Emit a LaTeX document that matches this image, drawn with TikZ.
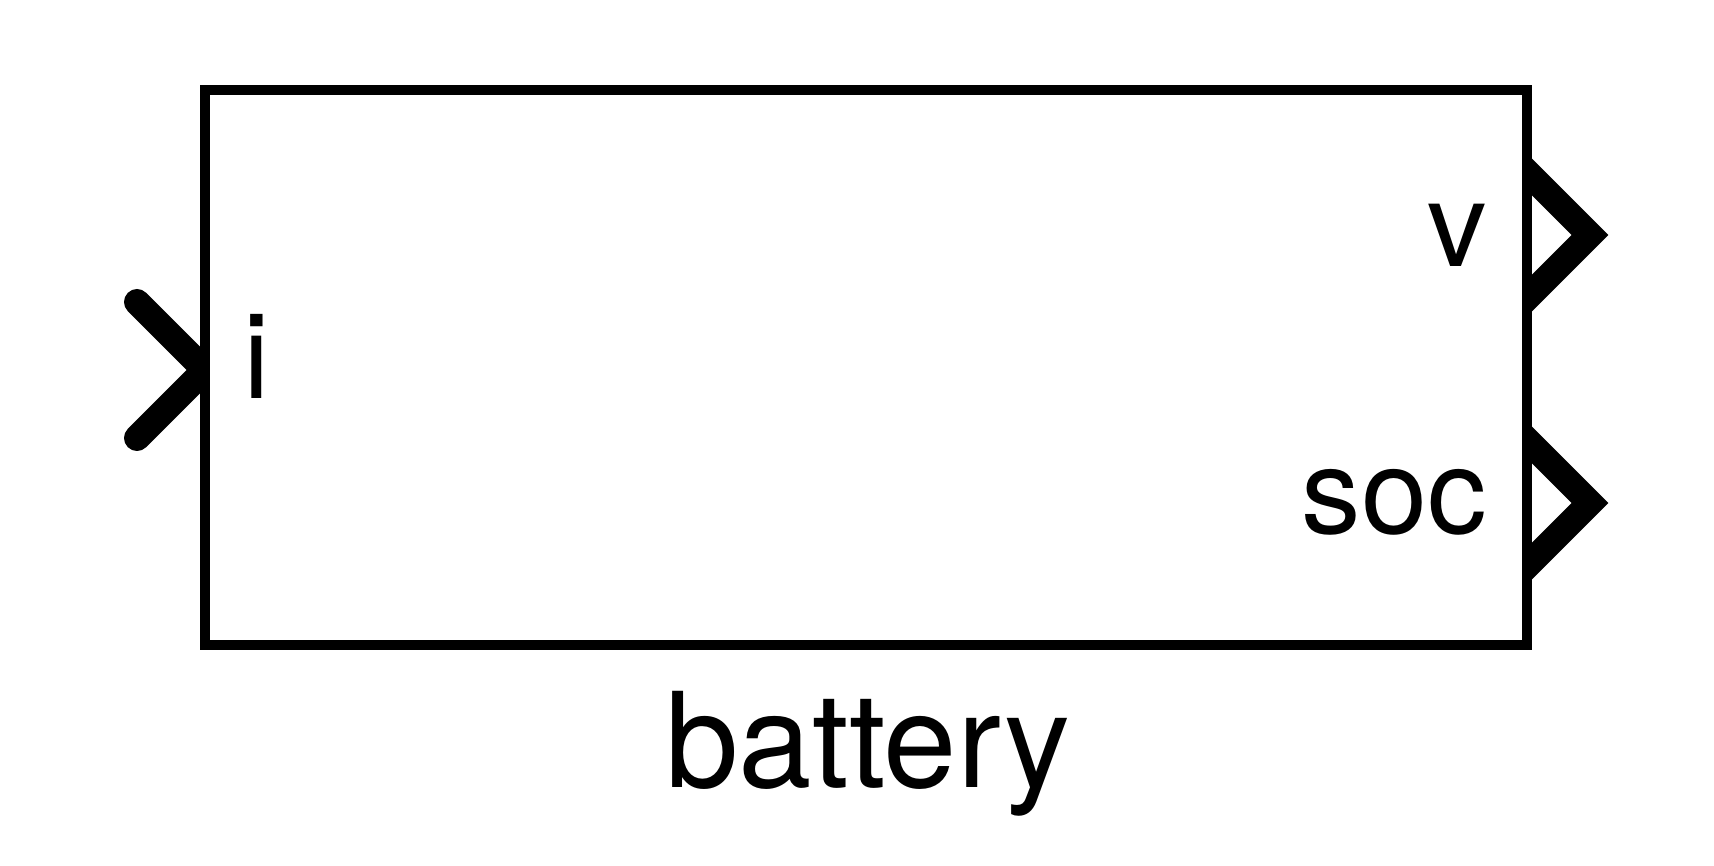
\documentclass[tikz,border=0pt]{standalone}
\usepackage{fontspec}
\setmainfont{TeX Gyre Heros}
\usetikzlibrary{positioning,backgrounds}

\begin{document}
\begin{tikzpicture}[
    x=1pt, y=-1pt,
    block/.style={draw, fill=white, line width=10pt, minimum width=1322pt, minimum height=555pt, inner sep=0pt},
    portlabel/.style={font=\fontsize{119}{119}\selectfont, inner sep=0pt},
    inport/.style={draw, line width=26pt, line cap=round},
    outport/.style={draw, line width=26pt, miter limit=10}
]
\useasboundingbox (0,0) rectangle (1714,866);
\node[block] (battery) at (866,367.5) {};
\node[portlabel, anchor=base west] (i label) at (243,399) {i};
\node[portlabel, anchor=base east] (v label) at (1487,267) {v};
\node[portlabel, anchor=base east] (soc label) at (1487,533) {soc};
\node[font=\fontsize{132}{132}\selectfont, inner sep=0pt, anchor=base] (name) at (868,787) {battery};

\coordinate (i tip) at (205,370);
\coordinate (v tip) at (1590,235);
\coordinate (soc tip) at (1590,503);

\begin{scope}[on background layer]
    \draw[inport] ([shift={(-68,-68)}]i tip) -- (i tip) -- ([shift={(-68,68)}]i tip);
    \draw[outport] ([shift={(-90,-90)}]v tip) -- (v tip) -- ([shift={(-90,90)}]v tip);
    \draw[outport] ([shift={(-90,-90)}]soc tip) -- (soc tip) -- ([shift={(-90,90)}]soc tip);
\end{scope}
\end{tikzpicture}
\end{document}
